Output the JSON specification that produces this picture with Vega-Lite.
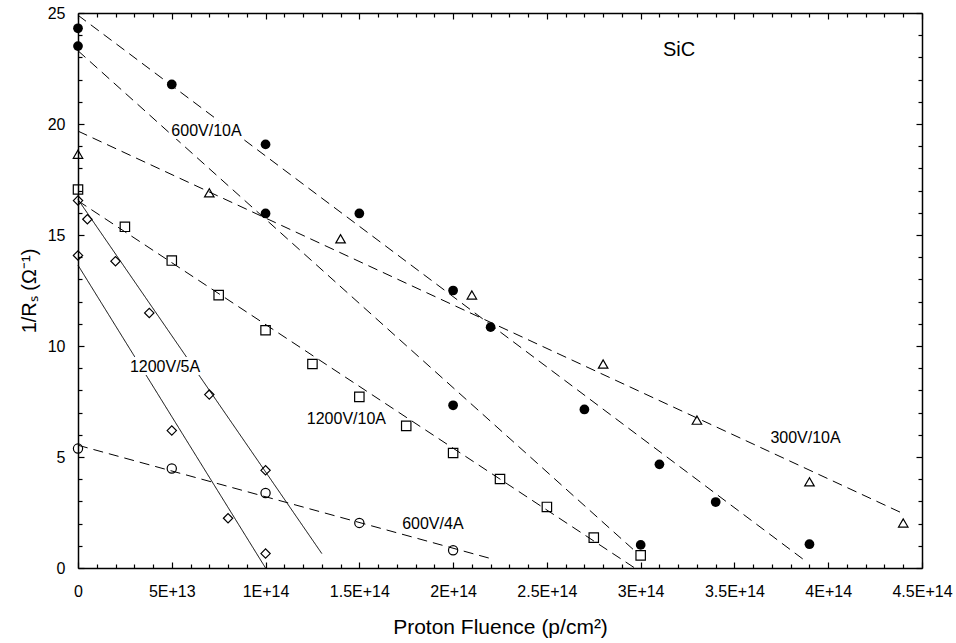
{
  "$schema": "https://vega.github.io/schema/vega-lite/v6.json",
  "width": 844,
  "height": 555,
  "autosize": {"type": "none"},
  "padding": {"left": 78, "top": 13, "right": 34, "bottom": 75},
  "background": "white",
  "config": {"view": {"stroke": null}, "font": "Liberation Sans"},
  "datasets": {
    "fits": [
      {"x": 0, "y": 24.9, "line": "A", "style": "dash"},
      {"x": 3.886e14, "y": 0.27, "line": "A", "style": "dash"},
      {"x": 0, "y": 23.3, "line": "B", "style": "dash"},
      {"x": 2.965e14, "y": 0.8, "line": "B", "style": "dash"},
      {"x": 0, "y": 19.68, "line": "T", "style": "dash"},
      {"x": 4.4e14, "y": 2.45, "line": "T", "style": "dash"},
      {"x": 0, "y": 16.54, "line": "S", "style": "dash"},
      {"x": 2.965e14, "y": 0.02, "line": "S", "style": "dash"},
      {"x": 0, "y": 16.6, "line": "D1", "style": "solid"},
      {"x": 1.3e14, "y": 0.65, "line": "D1", "style": "solid"},
      {"x": 0, "y": 13.64, "line": "D2", "style": "solid"},
      {"x": 1e14, "y": 0, "line": "D2", "style": "solid"},
      {"x": 0, "y": 5.53, "line": "C", "style": "dash"},
      {"x": 2.19e14, "y": 0.45, "line": "C", "style": "dash"}
    ],
    "points": [
      {"x": 0, "y": 24.31, "series": "filled"},
      {"x": 5e13, "y": 21.78, "series": "filled"},
      {"x": 1e14, "y": 19.08, "series": "filled"},
      {"x": 1.5e14, "y": 15.97, "series": "filled"},
      {"x": 2e14, "y": 12.5, "series": "filled"},
      {"x": 2.2e14, "y": 10.85, "series": "filled"},
      {"x": 2.7e14, "y": 7.14, "series": "filled"},
      {"x": 3.1e14, "y": 4.67, "series": "filled"},
      {"x": 3.4e14, "y": 2.97, "series": "filled"},
      {"x": 3.9e14, "y": 1.07, "series": "filled"},
      {"x": 0, "y": 23.51, "series": "filled"},
      {"x": 1e14, "y": 15.97, "series": "filled"},
      {"x": 2e14, "y": 7.33, "series": "filled"},
      {"x": 3e14, "y": 1.04, "series": "filled"},
      {"x": 0, "y": 18.64, "series": "triangle"},
      {"x": 7e13, "y": 16.9, "series": "triangle"},
      {"x": 1.4e14, "y": 14.83, "series": "triangle"},
      {"x": 2.1e14, "y": 12.3, "series": "triangle"},
      {"x": 2.8e14, "y": 9.19, "series": "triangle"},
      {"x": 3.3e14, "y": 6.66, "series": "triangle"},
      {"x": 3.9e14, "y": 3.88, "series": "triangle"},
      {"x": 4.4e14, "y": 2.03, "series": "triangle"},
      {"x": 0, "y": 17.05, "series": "square"},
      {"x": 2.5e13, "y": 15.37, "series": "square"},
      {"x": 5e13, "y": 13.85, "series": "square"},
      {"x": 7.5e13, "y": 12.29, "series": "square"},
      {"x": 1e14, "y": 10.71, "series": "square"},
      {"x": 1.25e14, "y": 9.19, "series": "square"},
      {"x": 1.5e14, "y": 7.71, "series": "square"},
      {"x": 1.75e14, "y": 6.4, "series": "square"},
      {"x": 2e14, "y": 5.18, "series": "square"},
      {"x": 2.25e14, "y": 4.01, "series": "square"},
      {"x": 2.5e14, "y": 2.75, "series": "square"},
      {"x": 2.75e14, "y": 1.37, "series": "square"},
      {"x": 3e14, "y": 0.57, "series": "square"},
      {"x": 0, "y": 16.55, "series": "diamond"},
      {"x": 5e12, "y": 15.71, "series": "diamond"},
      {"x": 2e13, "y": 13.82, "series": "diamond"},
      {"x": 3.8e13, "y": 11.49, "series": "diamond"},
      {"x": 7e13, "y": 7.81, "series": "diamond"},
      {"x": 1e14, "y": 4.4, "series": "diamond"},
      {"x": 0, "y": 14.08, "series": "diamond"},
      {"x": 5e13, "y": 6.19, "series": "diamond"},
      {"x": 8e13, "y": 2.24, "series": "diamond"},
      {"x": 1e14, "y": 0.65, "series": "diamond"},
      {"x": 0, "y": 5.38, "series": "circle"},
      {"x": 5e13, "y": 4.48, "series": "circle"},
      {"x": 1e14, "y": 3.38, "series": "circle"},
      {"x": 1.5e14, "y": 2.03, "series": "circle"},
      {"x": 2e14, "y": 0.8, "series": "circle"}
    ],
    "labels": [
      {"x": 6.85e13, "y": 19.68, "text": "600V/10A"},
      {"x": 4.64e13, "y": 9.04, "text": "1200V/5A"},
      {"x": 1.431e14, "y": 6.71, "text": "1200V/10A"},
      {"x": 1.892e14, "y": 1.98, "text": "600V/4A"},
      {"x": 3.879e14, "y": 5.87, "text": "300V/10A"}
    ],
    "notes": [
      {"x": 3.205e14, "y": 23.35, "text": "SiC"}
    ]
  },
  "layer": [
    {
      "data": {"name": "fits"},
      "mark": {"type": "line", "color": "black", "strokeWidth": 1},
      "encoding": {
        "x": {
          "field": "x", "type": "quantitative",
          "scale": {"domain": [0, 4.5e14], "nice": false, "zero": false},
          "axis": {
            "orient": "bottom",
            "values": [0,1e13,2e13,3e13,4e13,5e13,6e13,7e13,8e13,9e13,1e14,1.1e14,1.2e14,1.3e14,1.4e14,1.5e14,1.6e14,1.7e14,1.8e14,1.9e14,2e14,2.1e14,2.2e14,2.3e14,2.4e14,2.5e14,2.6e14,2.7e14,2.8e14,2.9e14,3e14,3.1e14,3.2e14,3.3e14,3.4e14,3.5e14,3.6e14,3.7e14,3.8e14,3.9e14,4e14,4.1e14,4.2e14,4.3e14,4.4e14,4.5e14],
            "labelExpr": "datum.value % 50000000000000 == 0 ? (datum.value == 0 ? '0' : replace(format(datum.value, '~e'), 'e', 'E')) : ''",
            "tickSize": {"condition": {"test": "datum.value % 50000000000000 == 0", "value": -6}, "value": -4},
            "tickColor": "black", "tickWidth": 1.2,
            "domainColor": "black", "domainWidth": 1.5,
            "labelFont": "Liberation Sans", "labelFontSize": 16, "labelColor": "black",
            "labelPadding": 21, "labelFlush": false, "labelOverlap": false,
            "grid": false,
            "title": "Proton Fluence (p/cm²)",
            "titleFont": "Liberation Sans", "titleFontSize": 21, "titleFontWeight": "normal", "titleColor": "black",
            "titleY": 65, "titleBaseline": "alphabetic"
          }
        },
        "y": {
          "field": "y", "type": "quantitative",
          "scale": {"domain": [0, 25], "nice": false, "zero": false},
          "axis": {
            "orient": "left",
            "values": [0,1,2,3,4,5,6,7,8,9,10,11,12,13,14,15,16,17,18,19,20,21,22,23,24,25],
            "labelExpr": "datum.value % 5 == 0 ? datum.label : ''",
            "tickSize": {"condition": {"test": "datum.value % 5 == 0", "value": -6}, "value": -4},
            "tickColor": "black", "tickWidth": 1.2,
            "domainColor": "black", "domainWidth": 1.5,
            "labelFont": "Liberation Sans", "labelFontSize": 16, "labelColor": "black",
            "labelPadding": 19, "labelFlush": false, "labelOverlap": false,
            "grid": false,
            "title": "1/Rₛ (Ω⁻¹)",
            "titleFont": "Liberation Sans", "titleFontSize": 20, "titleFontWeight": "normal", "titleColor": "black",
            "titleAngle": -90, "titleX": -43, "titleY": 277.5, "titleAlign": "center", "titleBaseline": "alphabetic"
          }
        },
        "detail": {"field": "line"},
        "strokeDash": {
          "field": "style", "type": "nominal",
          "scale": {"domain": ["dash", "solid"], "range": [[10, 6], [1, 0]]},
          "legend": null
        }
      }
    },
    {
      "data": {"name": "points"},
      "transform": [{"filter": "datum.series == 'filled'"}],
      "mark": {"type": "point", "shape": "circle", "filled": true, "color": "black", "opacity": 1, "size": 95},
      "encoding": {
        "x": {
          "field": "x", "type": "quantitative",
          "axis": {
            "orient": "top",
            "values": [0,1e13,2e13,3e13,4e13,5e13,6e13,7e13,8e13,9e13,1e14,1.1e14,1.2e14,1.3e14,1.4e14,1.5e14,1.6e14,1.7e14,1.8e14,1.9e14,2e14,2.1e14,2.2e14,2.3e14,2.4e14,2.5e14,2.6e14,2.7e14,2.8e14,2.9e14,3e14,3.1e14,3.2e14,3.3e14,3.4e14,3.5e14,3.6e14,3.7e14,3.8e14,3.9e14,4e14,4.1e14,4.2e14,4.3e14,4.4e14,4.5e14],
            "labels": false,
            "tickSize": {"condition": {"test": "datum.value % 50000000000000 == 0", "value": -6}, "value": -4},
            "tickColor": "black", "tickWidth": 1.2,
            "domainColor": "black", "domainWidth": 1.5,
            "grid": false, "title": null
          }
        },
        "y": {
          "field": "y", "type": "quantitative",
          "axis": {
            "orient": "right",
            "values": [0,1,2,3,4,5,6,7,8,9,10,11,12,13,14,15,16,17,18,19,20,21,22,23,24,25],
            "labels": false,
            "tickSize": {"condition": {"test": "datum.value % 5 == 0", "value": -6}, "value": -4},
            "tickColor": "black", "tickWidth": 1.2,
            "domainColor": "black", "domainWidth": 1.5,
            "grid": false, "title": null
          }
        }
      }
    },
    {
      "data": {"name": "points"},
      "transform": [{"filter": "datum.series != 'filled'"}],
      "mark": {"type": "point", "filled": false, "color": "black", "opacity": 1, "strokeWidth": 1.2},
      "encoding": {
        "x": {"field": "x", "type": "quantitative", "axis": null},
        "y": {"field": "y", "type": "quantitative", "axis": null},
        "shape": {
          "field": "series", "type": "nominal",
          "scale": {"domain": ["triangle", "square", "diamond", "circle"], "range": ["triangle-up", "square", "diamond", "circle"]},
          "legend": null
        },
        "size": {
          "field": "series", "type": "nominal",
          "scale": {"domain": ["triangle", "square", "diamond", "circle"], "range": [90, 85, 72, 85]},
          "legend": null
        }
      }
    },
    {
      "data": {"name": "labels"},
      "mark": {"type": "text", "font": "Liberation Sans", "fontSize": 16, "fill": "white", "stroke": "white", "strokeWidth": 6, "align": "center", "baseline": "middle"},
      "encoding": {
        "x": {"field": "x", "type": "quantitative", "axis": null},
        "y": {"field": "y", "type": "quantitative", "axis": null},
        "text": {"field": "text"}
      }
    },
    {
      "data": {"name": "labels"},
      "mark": {"type": "text", "font": "Liberation Sans", "fontSize": 16, "color": "black", "align": "center", "baseline": "middle"},
      "encoding": {
        "x": {"field": "x", "type": "quantitative", "axis": null},
        "y": {"field": "y", "type": "quantitative", "axis": null},
        "text": {"field": "text"}
      }
    },
    {
      "data": {"name": "notes"},
      "mark": {"type": "text", "font": "Liberation Sans", "fontSize": 20, "color": "black", "align": "center", "baseline": "middle"},
      "encoding": {
        "x": {"field": "x", "type": "quantitative", "axis": null},
        "y": {"field": "y", "type": "quantitative", "axis": null},
        "text": {"field": "text"}
      }
    }
  ],
  "resolve": {"axis": {"x": "independent", "y": "independent"}}
}
